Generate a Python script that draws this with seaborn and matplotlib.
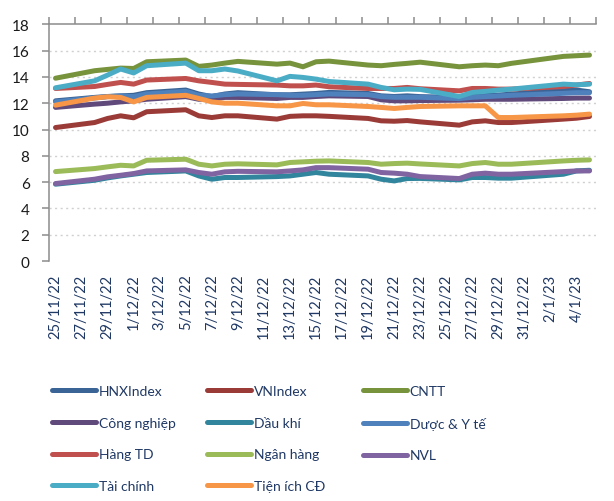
import numpy as np
import pandas as pd
import matplotlib
matplotlib.use("Agg")
import matplotlib.pyplot as plt
import matplotlib.dates as mdates
import seaborn as sns

# ---------------- data ----------------
dates = ["2022-11-25", "2022-11-28", "2022-11-29", "2022-11-30", "2022-12-01", "2022-12-02",
         "2022-12-05", "2022-12-06", "2022-12-07", "2022-12-08", "2022-12-09",
         "2022-12-12", "2022-12-13", "2022-12-14", "2022-12-15", "2022-12-16",
         "2022-12-19", "2022-12-20", "2022-12-21", "2022-12-22", "2022-12-23",
         "2022-12-26", "2022-12-27", "2022-12-28", "2022-12-29", "2022-12-30",
         "2023-01-03", "2023-01-04", "2023-01-05"]

hnx_index = [12.18, 12.44, 12.51, 12.56, 12.6, 12.8, 13.0, 12.7, 12.5, 12.7, 12.8, 12.64, 12.64, 12.69, 12.74,
             12.82, 12.74, 12.56, 12.51, 12.56, 12.5, 12.44, 12.56, 12.6, 12.62, 12.69, 13.0, 13.0, 12.87]
vn_index = [10.15, 10.53, 10.84, 11.04, 10.89, 11.35, 11.5, 11.04, 10.91, 11.04, 11.04, 10.79, 11.0, 11.04, 11.04,
            11.0, 10.84, 10.66, 10.63, 10.68, 10.58, 10.33, 10.58, 10.66, 10.53, 10.53, 10.79, 10.86, 10.99]
cntt = [13.9, 14.47, 14.57, 14.67, 14.64, 15.15, 15.28, 14.8, 14.9, 15.05, 15.18, 14.97, 15.05, 14.77, 15.15,
        15.2, 14.9, 14.85, 14.95, 15.03, 15.12, 14.77, 14.85, 14.9, 14.85, 15.03, 15.56, 15.61, 15.66]
cong_nghiep = [11.68, 11.93, 12.0, 12.1, 12.18, 12.3, 12.5, 12.3, 12.3, 12.44, 12.44, 12.36, 12.44, 12.44, 12.51,
               12.56, 12.51, 12.26, 12.18, 12.18, 12.2, 12.23, 12.26, 12.3, 12.3, 12.3, 12.36, 12.39, 12.39]
dau_khi = [5.84, 6.14, 6.32, 6.47, 6.6, 6.73, 6.85, 6.47, 6.22, 6.35, 6.35, 6.42, 6.47, 6.6, 6.73,
           6.6, 6.47, 6.22, 6.09, 6.27, 6.28, 6.17, 6.35, 6.35, 6.3, 6.3, 6.6, 6.85, 6.9]
duoc_yte = [12.1, 12.4, 12.5, 12.55, 12.5, 12.7, 12.9, 12.6, 12.55, 12.65, 12.7, 12.65, 12.6, 12.6, 12.65,
            12.7, 12.65, 12.5, 12.45, 12.45, 12.45, 12.35, 12.45, 12.5, 12.55, 12.6, 12.75, 12.8, 12.8]
hang_td = [13.12, 13.27, 13.43, 13.58, 13.45, 13.76, 13.88, 13.7, 13.58, 13.45, 13.43, 13.38, 13.32, 13.32, 13.38,
           13.25, 13.12, 13.12, 13.12, 13.2, 13.1, 12.94, 13.12, 13.12, 13.07, 13.07, 13.27, 13.38, 13.5]
ngan_hang = [6.8, 7.03, 7.16, 7.28, 7.23, 7.66, 7.74, 7.36, 7.23, 7.36, 7.39, 7.31, 7.49, 7.54, 7.59,
             7.61, 7.49, 7.36, 7.41, 7.44, 7.38, 7.23, 7.41, 7.49, 7.36, 7.36, 7.61, 7.66, 7.69]
nvl = [5.89, 6.22, 6.4, 6.52, 6.65, 6.85, 6.93, 6.73, 6.6, 6.78, 6.82, 6.78, 6.85, 6.93, 7.1,
       7.1, 6.98, 6.73, 6.68, 6.6, 6.42, 6.27, 6.6, 6.68, 6.6, 6.6, 6.8, 6.85, 6.85]
tai_chinh = [13.17, 13.7, 14.14, 14.6, 14.3, 14.85, 15.05, 14.47, 14.47, 14.6, 14.45, 13.7, 14.04, 13.96, 13.83,
             13.65, 13.45, 13.2, 13.02, 13.07, 13.05, 12.51, 12.82, 12.9, 13.0, 13.07, 13.45, 13.4, 13.45]
tien_ich = [11.85, 12.39, 12.49, 12.44, 12.1, 12.44, 12.6, 12.36, 12.1, 12.0, 12.0, 11.8, 11.8, 11.98, 11.88,
            11.88, 11.75, 11.68, 11.6, 11.68, 11.75, 11.8, 11.8, 11.8, 10.91, 10.91, 11.04, 11.09, 11.17]

series_names = ["HNXIndex", "VNIndex", "CNTT", "Công nghiệp", "Dầu khí", "Dược & Y tế",
                "Hàng TD", "Ngân hàng", "NVL", "Tài chính", "Tiện ích CĐ"]
series_values = [hnx_index, vn_index, cntt, cong_nghiep, dau_khi, duoc_yte,
                 hang_td, ngan_hang, nvl, tai_chinh, tien_ich]
colors = ["#3B6496", "#9B3B38", "#77933C", "#604A7B", "#31859C", "#4F81BD",
          "#C0504D", "#9BBB59", "#8064A2", "#4BACC6", "#F79646"]
y_ticks = [0, 2, 4, 6, 8, 10, 12, 14, 16, 18]

# ---------------- frame ----------------
dt = pd.to_datetime(dates)
frames = []
for name, vals in zip(series_names, series_values):
    frames.append(pd.DataFrame({"date": dt, "value": vals, "series": name}))
df = pd.concat(frames, ignore_index=True)

sns.set_style("white")
plt.rcParams["font.family"] = ["Lato", "DejaVu Sans"]

fig = plt.figure(figsize=(6.14, 5.02), dpi=100)
ax = fig.add_axes([49 / 614, 1 - 262 / 502, (596 - 49) / 614, (262 - 25.3) / 502])

sns.lineplot(data=df, x="date", y="value", hue="series", hue_order=series_names,
             palette=colors, linewidth=3.6, legend=False, ax=ax, estimator=None, sort=True)
for ln in ax.lines:
    ln.set_solid_capstyle("round")
    ln.set_solid_joinstyle("round")

# ---------------- axes styling ----------------
start = pd.Timestamp("2022-11-25")
end = pd.Timestamp("2023-01-05")
half = pd.Timedelta(hours=12)
ax.set_xlim(mdates.date2num(start - half), mdates.date2num(end + half))
ax.set_ylim(0, 18)
ax.set_yticks(y_ticks)
ax.set_yticklabels([str(v) for v in y_ticks], fontsize=11, color="#1a1a1a")
ax.set_xlabel("")
ax.set_ylabel("")

label_dates = pd.date_range("2022-11-25", "2023-01-04", freq="2D")
ax.set_xticks(mdates.date2num(label_dates))
ax.set_xticklabels([f"{d.day}/{d.month}/{d.year % 100}" for d in label_dates],
                   rotation=90, fontsize=10.5, color="#1F3864")
minor_dates = pd.date_range(start - half, end + half, freq="2D")
ax.set_xticks(mdates.date2num(minor_dates), minor=True)

ax.tick_params(axis="x", which="major", bottom=True, top=False, length=0, pad=9)
ax.tick_params(axis="x", which="minor", bottom=False, top=True, direction="out",
               length=5, width=1.1, color="#8C8C8C")
ax.tick_params(axis="y", which="major", left=True, direction="out", length=5,
               width=1.1, color="#8C8C8C", pad=9)

ax.grid(False)
for yv in y_ticks[1:-1]:
    ax.axhline(yv, color="#D0D0D0", lw=1.0, ls=(0, (1.5, 2.5)), zorder=0)

for s in ["bottom", "right"]:
    ax.spines[s].set_visible(False)
for s in ["left", "top"]:
    ax.spines[s].set_visible(True)
    ax.spines[s].set_color("#8C8C8C")
    ax.spines[s].set_linewidth(1.1)

# ---------------- legend (3 columns, row-major like reference) ----------------
handles = ax.lines[:len(series_names)]
col_x = [52 / 614, 207 / 614, 363 / 614]
for c in range(3):
    idx = list(range(c, len(series_names), 3))
    leg = fig.legend([handles[i] for i in idx], [series_names[i] for i in idx],
                     loc="upper left", bbox_to_anchor=(col_x[c], 1 - 386 / 502),
                     frameon=False, fontsize=10, handlelength=3.2, handletextpad=0.15,
                     labelspacing=1.42, borderpad=0, borderaxespad=0)
    for t in leg.get_texts():
        t.set_color("#1F3864")
    for h in leg.get_lines():
        h.set_linewidth(3.6)
        h.set_solid_capstyle("round")

fig.savefig("out.png", dpi=100)
